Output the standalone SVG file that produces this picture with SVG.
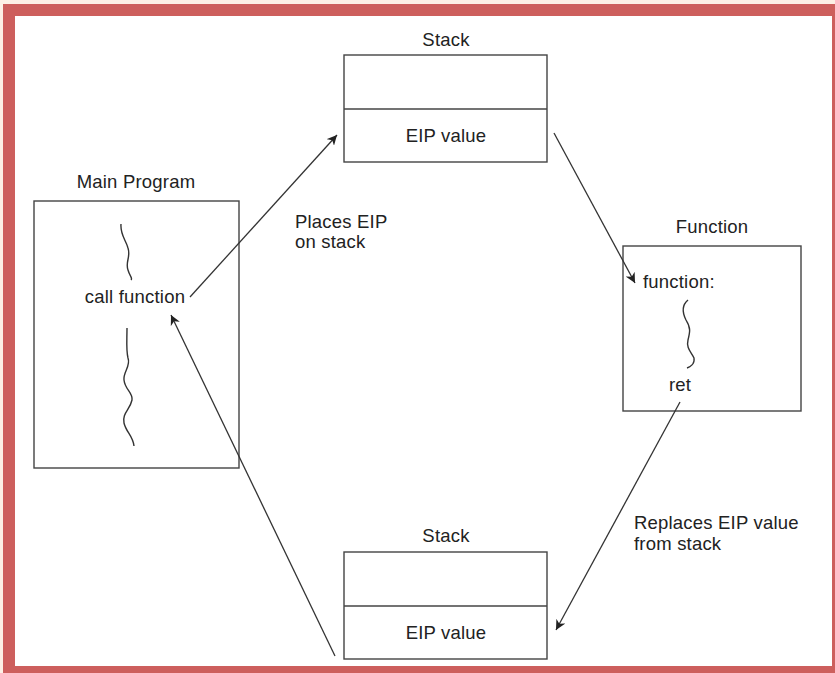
<svg xmlns="http://www.w3.org/2000/svg" width="835" height="673" viewBox="0 0 835 673">
<style>
text{font-family:"Liberation Sans",Arial,sans-serif;font-size:18.5px;letter-spacing:0.2px;fill:#222}
.box{fill:none;stroke:#444;stroke-width:1.4}
.ln{fill:none;stroke:#333;stroke-width:1.3}
.sq{fill:none;stroke:#333;stroke-width:1.4}
</style>
<defs>
<marker id="ah" viewBox="0 0 10 10" refX="10" refY="5" markerWidth="10" markerHeight="10" markerUnits="userSpaceOnUse" orient="auto">
<path d="M0,0 L10,5 L0,10 L3,5 z" fill="#222"/>
</marker>
</defs>
<rect x="0" y="0" width="835" height="673" fill="#fdf0e6"/>
<rect x="3" y="4" width="832" height="669" fill="#cd5f5d"/>
<rect x="15" y="16" width="817" height="650" fill="#ffffff"/>

<g id="stack-top">
<text x="446" y="46" text-anchor="middle">Stack</text>
<rect class="box" x="344" y="55" width="203" height="107"/>
<line class="box" x1="344" y1="109" x2="547" y2="109"/>
<text x="446" y="142" text-anchor="middle">EIP value</text>
</g>

<g id="main-program">
<text x="136" y="188" text-anchor="middle">Main Program</text>
<rect class="box" x="34" y="201" width="205" height="267"/>
<path class="sq" d="M121,224 C120,235 126,240 128,248 C131,257 125,262 128,270 C130,277 133,278 131,280"/>
<text x="135" y="303" text-anchor="middle">call function</text>
<path class="sq" d="M127,328 C127,340 126,350 128,358 C131,366 123,372 124,380 C125,390 133,392 132,400 C130,410 122,413 124,423 C126,432 133,436 134,446"/>
</g>

<g id="function">
<text x="712" y="233" text-anchor="middle">Function</text>
<rect class="box" x="623" y="246" width="178" height="165"/>
<text x="643" y="288">function:</text>
<path class="sq" d="M688,300 C682,305 682,312 686,320 C691,328 690,332 688,340 C686,348 691,352 694,358 C695,364 690,367 687,368"/>
<text x="680" y="391" text-anchor="middle">ret</text>
</g>

<g id="stack-bottom">
<text x="446" y="542" text-anchor="middle">Stack</text>
<rect class="box" x="344" y="552" width="203" height="107"/>
<line class="box" x1="344" y1="606" x2="547" y2="606"/>
<text x="446" y="639" text-anchor="middle">EIP value</text>
</g>

<g id="labels">
<text x="295" y="228">Places EIP</text>
<text x="295" y="248">on stack</text>
<text x="634" y="529">Replaces EIP value</text>
<text x="634" y="550">from stack</text>
</g>

<g id="connectors">
<line class="ln" x1="190" y1="297" x2="337" y2="135" marker-end="url(#ah)"/>
<line class="ln" x1="554" y1="133" x2="635" y2="283" marker-end="url(#ah)"/>
<line class="ln" x1="680" y1="402" x2="556" y2="630" marker-end="url(#ah)"/>
<line class="ln" x1="335" y1="656" x2="171" y2="315" marker-end="url(#ah)"/>
</g>
</svg>
